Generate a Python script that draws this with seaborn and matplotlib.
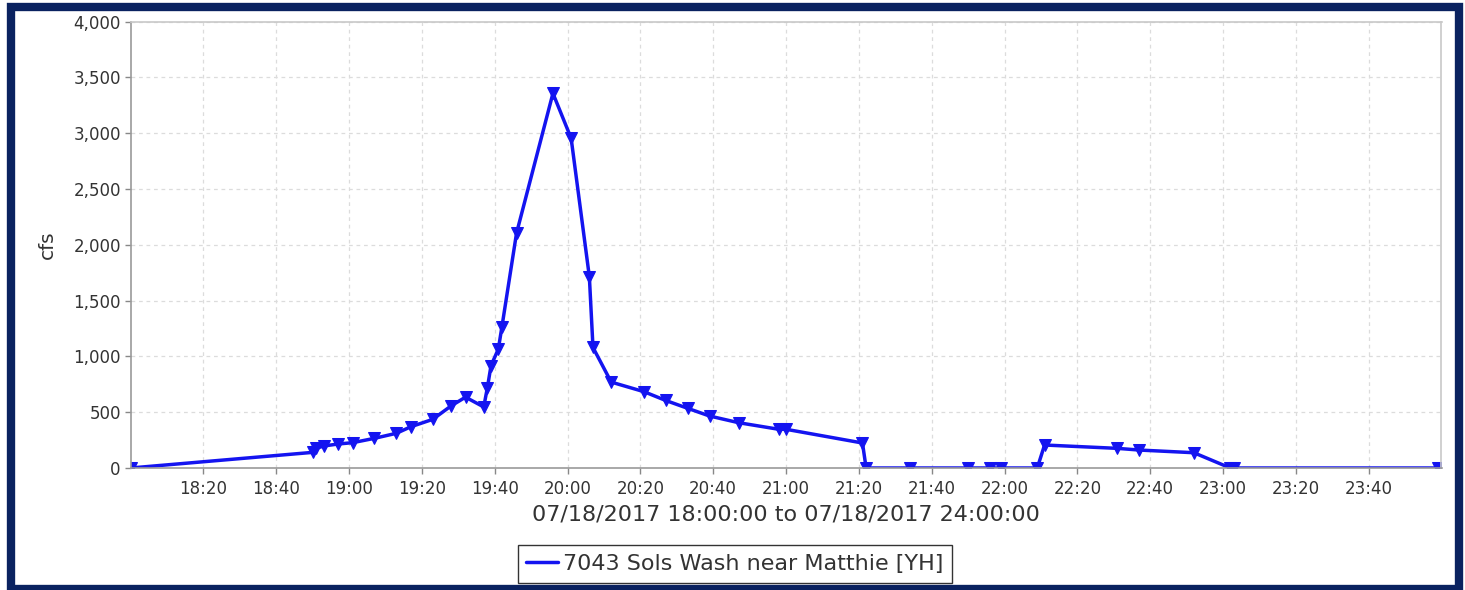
import matplotlib
matplotlib.use("Agg")
import matplotlib.pyplot as plt
from matplotlib.lines import Line2D
from matplotlib.patches import Rectangle
import matplotlib.ticker as mticker
import pandas as pd
import seaborn as sns

# ---- data ----
times = ["18:00", "18:50", "18:51", "18:53", "18:57", "19:01", "19:07", "19:13",
         "19:17", "19:23", "19:28", "19:32", "19:37", "19:38", "19:39", "19:41",
         "19:42", "19:46", "19:56", "20:01", "20:06", "20:07", "20:12", "20:21",
         "20:27", "20:33", "20:39", "20:47", "20:58", "21:00", "21:21", "21:22",
         "21:34", "21:50", "21:56", "21:59", "22:09", "22:11", "22:31", "22:37",
         "22:52", "23:02", "23:03", "23:59"]
flow_cfs = [0, 140, 176, 197, 215, 227, 266, 311,
            370, 436, 556, 635, 547, 720, 918, 1065,
            1267, 2104, 3358, 2955, 1715, 1080, 770, 684,
            605, 535, 466, 406, 347, 347, 224, 0,
            0, 0, 0, 0, 0, 206, 176, 161,
            137, 0, 0, 0]
series_name = "7043 Sols Wash near Matthie [YH]"
x_tick_labels = ["18:20", "18:40", "19:00", "19:20", "19:40", "20:00", "20:20", "20:40",
                 "21:00", "21:20", "21:40", "22:00", "22:20", "22:40", "23:00", "23:20", "23:40"]
y_ticks = [0, 500, 1000, 1500, 2000, 2500, 3000, 3500, 4000]
x_label = "07/18/2017 18:00:00 to 07/18/2017 24:00:00"
y_label = "cfs"
day = "2017-07-18"

df = pd.DataFrame({
    "time": pd.to_datetime([f"{day} {t}" for t in times]),
    "cfs": flow_cfs,
})

sns.set_theme(style="white")
plt.rcParams["font.family"] = ["DejaVu Sans"]

W, H = 1465, 590
fig = plt.figure(figsize=(W / 100, H / 100), dpi=100)
fig.patch.set_facecolor("white")
ax = fig.add_axes([130.5 / W, 1 - 468 / H, (1441.5 - 130.5) / W, (468 - 21.7) / H])

line_color = "#1414f0"
sns.lineplot(data=df, x="time", y="cfs", ax=ax, color=line_color, linewidth=2.5,
             marker="v", markersize=8.5, markeredgecolor=line_color,
             markerfacecolor=line_color, estimator=None, legend=False)

# axes ranges
ax.set_xlim(pd.Timestamp(f"{day} 18:00"), pd.Timestamp(f"{day} 18:00") + pd.Timedelta(hours=6))
ax.set_ylim(0, 4000)

tick_pos = [pd.Timestamp(f"{day} {t}") for t in x_tick_labels]
ax.set_xticks(tick_pos)
ax.set_xticklabels(x_tick_labels)
ax.set_yticks(y_ticks)
ax.yaxis.set_major_formatter(mticker.FuncFormatter(lambda v, p: f"{int(v):,}"))

text_color = "#333333"
ax.tick_params(axis="both", which="major", direction="out", length=4, width=1,
               color="#888888", labelsize=12, labelcolor=text_color, pad=3, bottom=True, left=True)
ax.tick_params(axis="x", pad=5)

ax.grid(True, color="#dcdcdc", linestyle=(0, (3, 3)), linewidth=0.9)
for side in ["left", "bottom", "top", "right"]:
    ax.spines[side].set_visible(True)
    ax.spines[side].set_color("#9a9a9a")
    ax.spines[side].set_linewidth(1.2)
ax.spines["top"].set_color("#c8c8c8")
ax.spines["right"].set_color("#c8c8c8")

ax.set_xlabel(x_label, fontsize=16, color=text_color, labelpad=4)
ax.set_ylabel(y_label, fontsize=14.5, color=text_color, labelpad=12)

# legend
handle = Line2D([0], [0], color=line_color, linewidth=2.5)
leg = fig.legend(handles=[handle], labels=[series_name], loc="lower center",
                 bbox_to_anchor=(735 / W, 7 / H), fontsize=16, frameon=True,
                 fancybox=False, framealpha=1, edgecolor="#333333",
                 handlelength=1.4, handletextpad=0.25, borderpad=0.4, borderaxespad=0)
for t in leg.get_texts():
    t.set_color(text_color)
leg.get_frame().set_linewidth(1.0)

# navy frame around the whole picture
fig.patches.append(Rectangle((11 / W, (H - 589) / H), (1458.5 - 11) / W, (589 - 6.5) / H,
                             transform=fig.transFigure, fill=False,
                             edgecolor="#0a2260", linewidth=6.0, zorder=10))

fig.savefig("out.png", dpi=100, facecolor="white")
